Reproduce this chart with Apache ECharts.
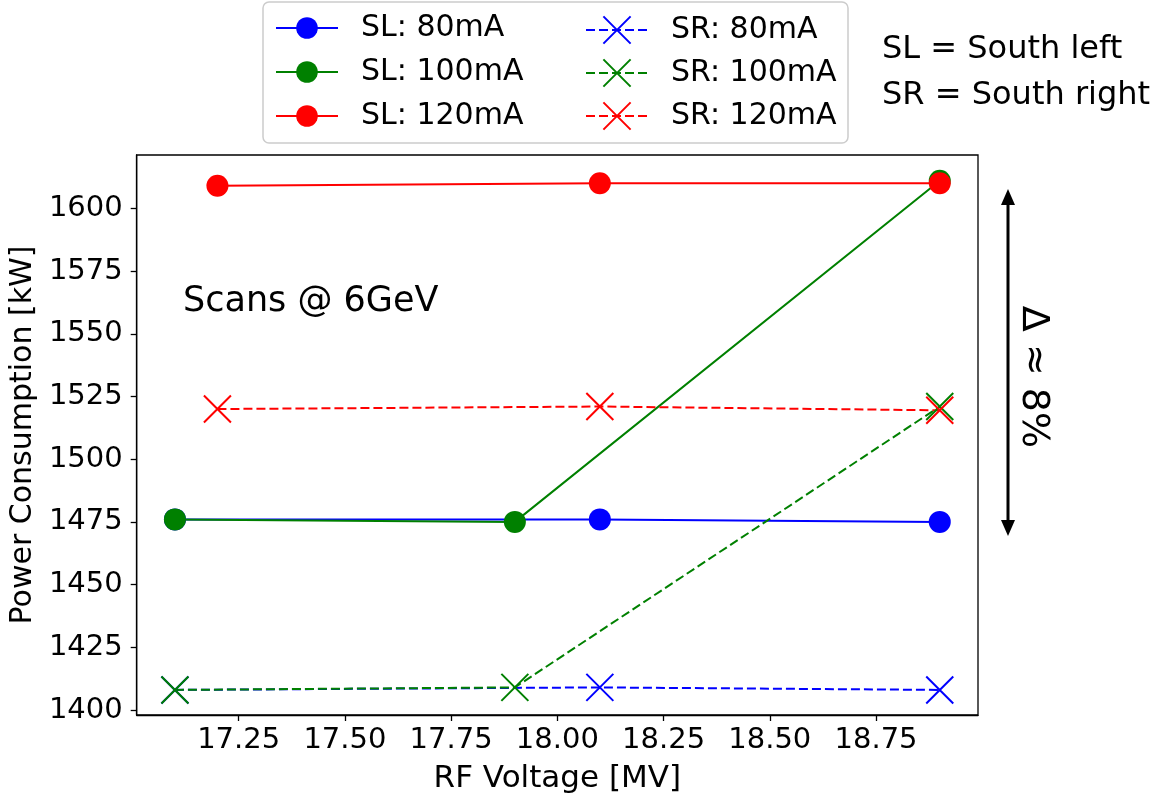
<!DOCTYPE html>
<html>
<head>
<meta charset="utf-8">
<script src="https://cdn.jsdelivr.net/npm/echarts@6/dist/echarts.min.js"></script>
<style>
  html, body { margin: 0; padding: 0; background: #fff; }
  #chart { width: 1159px; height: 799px; }
</style>
</head>
<body>
<div id="chart"></div>
<script>
// RF voltage [MV] for each scan
const xSL80 = [17.1, 18.1, 18.9];
const xSL100 = [17.1, 17.9, 18.9];
const xSL120 = [17.2, 18.1, 18.9];
const xSR80 = [17.1, 18.1, 18.9];
const xSR100 = [17.1, 17.9, 18.9];
const xSR120 = [17.2, 18.1, 18.9];

// power consumption [kW]
const ySL80 = [1476, 1476, 1475];
const ySL100 = [1476, 1475, 1611];
const ySL120 = [1609, 1610, 1610];
const ySR80 = [1408, 1409, 1408];
const ySR100 = [1408, 1409, 1521];
const ySR120 = [1520, 1521, 1519.5];

const xTicks = [17.25, 17.5, 17.75, 18, 18.25, 18.5, 18.75];
const yTicks = [1400, 1425, 1450, 1475, 1500, 1525, 1550, 1575, 1600];

const slNames = ['SL: 80mA', 'SL: 100mA', 'SL: 120mA'];
const srNames = ['SR: 80mA', 'SR: 100mA', 'SR: 120mA'];

const FONT = 'DejaVu Sans';
const CROSS = 'path://M0,0L10,10M10,0L0,10';

function pairs (xs, ys) {
  return xs.map((x, i) => [x, ys[i]]);
}

// solid line + round marker
function slSeries (name, xs, ys, color) {
  return {
    name: name,
    type: 'line',
    data: pairs(xs, ys),
    symbol: 'circle',
    symbolSize: 22,
    lineStyle: { color: color, width: 2 },
    itemStyle: { color: color }
  };
}

// dashed line + x marker
function srSeries (name, xs, ys, color) {
  return {
    name: name,
    type: 'line',
    data: pairs(xs, ys),
    symbol: CROSS,
    symbolSize: 27,
    lineStyle: { color: color, width: 2, type: [9, 4] },
    itemStyle: { color: color, borderColor: color, borderWidth: 2 }
  };
}

const chart = echarts.init(document.getElementById('chart'));

const legendText = { fontFamily: FONT, fontSize: 30, lineHeight: 30, color: '#000', padding: [0, 0, 0, 18] };

const option = {
  animation: false,
  backgroundColor: '#fff',
  grid: {
    left: 135, right: 181, top: 155, bottom: 82,
    show: true, borderColor: '#000', borderWidth: 1.3
  },
  legend: [
    {
      data: slNames, left: 270, top: 8, orient: 'vertical',
      itemWidth: 62, itemHeight: 27, itemGap: 14, textStyle: legendText
    },
    {
      data: srNames, left: 580, top: 10, orient: 'vertical',
      itemWidth: 62, itemHeight: 34, itemGap: 13, textStyle: legendText
    }
  ],
  xAxis: {
    type: 'value',
    min: 17.01,
    max: 18.99,
    name: 'RF Voltage [MV]',
    nameLocation: 'middle',
    nameGap: 48,
    nameTextStyle: { fontFamily: FONT, fontSize: 31, color: '#000' },
    axisLine: { show: true, lineStyle: { color: '#000', width: 1.3 } },
    axisTick: { show: true, length: 6, customValues: xTicks, lineStyle: { color: '#000', width: 1.3 } },
    axisLabel: {
      customValues: xTicks,
      formatter: v => v.toFixed(2),
      fontFamily: FONT, fontSize: 29, color: '#000', margin: 11
    },
    splitLine: { show: false }
  },
  yAxis: {
    type: 'value',
    min: 1398,
    max: 1621.3,
    name: 'Power Consumption [kW]',
    nameLocation: 'middle',
    nameGap: 95,
    nameTextStyle: { fontFamily: FONT, fontSize: 30, color: '#000' },
    axisLine: { show: true, lineStyle: { color: '#000', width: 1.3 } },
    axisTick: { show: true, length: 6, customValues: yTicks, lineStyle: { color: '#000', width: 1.3 } },
    axisLabel: {
      customValues: yTicks,
      formatter: v => String(v),
      fontFamily: FONT, fontSize: 29, color: '#000', margin: 14
    },
    splitLine: { show: false }
  },
  graphic: [
    {
      type: 'rect', z: -1,
      shape: { x: 263, y: 2, width: 585, height: 141, r: 6 },
      style: { fill: 'rgba(255,255,255,0.8)', stroke: '#cccccc', lineWidth: 1.5 }
    },
    {
      type: 'text', x: 183, y: 302,
      style: { text: 'Scans @ 6GeV', font: '35px "DejaVu Sans"', fill: '#000', verticalAlign: 'middle' }
    },
    {
      type: 'text', x: 882, y: 50,
      style: { text: 'SL = South left', font: '32px "DejaVu Sans"', fill: '#000', verticalAlign: 'middle' }
    },
    {
      type: 'text', x: 882, y: 96,
      style: { text: 'SR = South right', font: '32px "DejaVu Sans"', fill: '#000', verticalAlign: 'middle' }
    },
    {
      type: 'text', x: 1033, y: 377, rotation: -Math.PI / 2,
      style: { text: 'Δ ≈ 8%', font: '38px "DejaVu Sans"', fill: '#000', align: 'center', verticalAlign: 'middle' }
    },
    {
      type: 'line',
      shape: { x1: 1008, y1: 200, x2: 1008, y2: 525 },
      style: { stroke: '#000', lineWidth: 3 }
    },
    {
      type: 'polygon',
      shape: { points: [[1008, 189], [1001, 205], [1015, 205]] },
      style: { fill: '#000' }
    },
    {
      type: 'polygon',
      shape: { points: [[1008, 536], [1001, 520], [1015, 520]] },
      style: { fill: '#000' }
    }
  ],
  series: [
    slSeries(slNames[0], xSL80, ySL80, '#0000ff'),
    slSeries(slNames[1], xSL100, ySL100, '#008000'),
    slSeries(slNames[2], xSL120, ySL120, '#ff0000'),
    srSeries(srNames[0], xSR80, ySR80, '#0000ff'),
    srSeries(srNames[1], xSR100, ySR100, '#008000'),
    srSeries(srNames[2], xSR120, ySR120, '#ff0000')
  ]
};

chart.setOption(option);
</script>
</body>
</html>
